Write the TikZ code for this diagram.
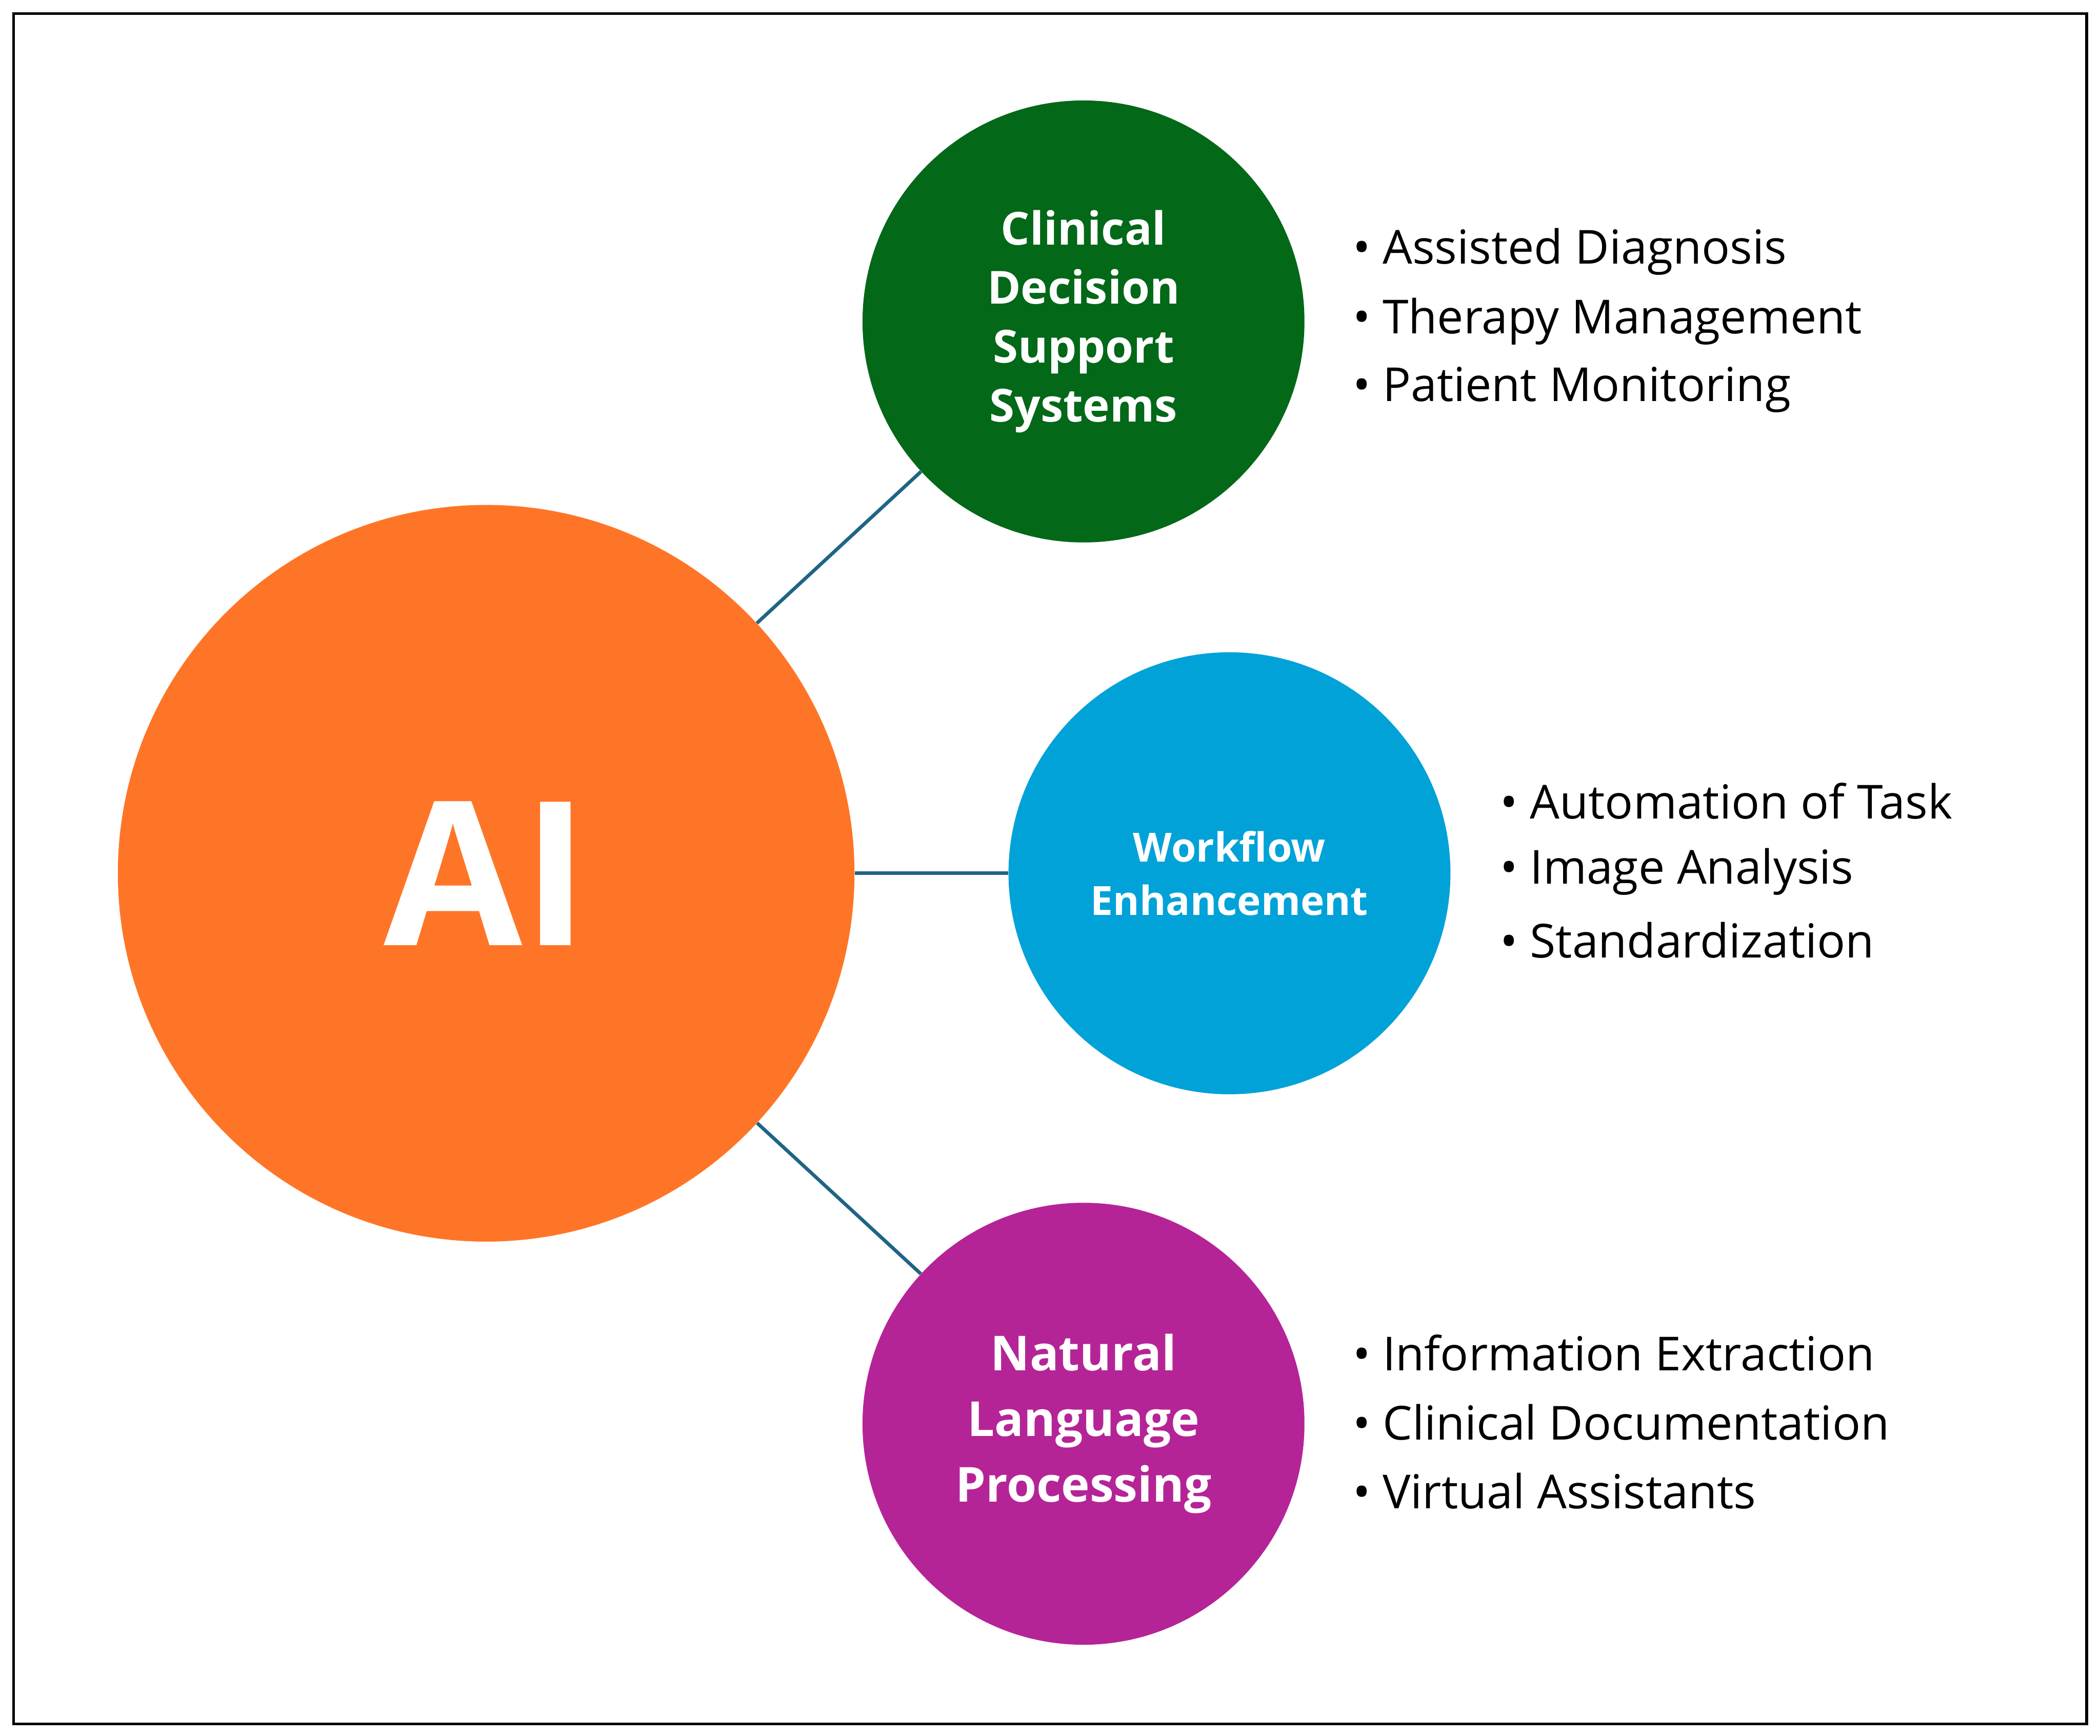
\documentclass[tikz,border=0pt]{standalone}
\usepackage{fontspec}
\setmainfont{Open Sans}
\definecolor{aiorange}{HTML}{FF7527}
\definecolor{cgreen}{HTML}{036818}
\definecolor{cblue}{HTML}{00A2D8}
\definecolor{cmag}{HTML}{B52497}
\definecolor{lnk}{HTML}{1F6485}
\begin{document}
\begin{tikzpicture}[x=1pt,y=-1pt,
  circ/.style={circle,inner sep=0pt,text=white,font=\fontsize{34}{44}\selectfont\bfseries,align=center},
  item/.style={anchor=west,font=\fontsize{35}{40}\selectfont,inner sep=0pt},
  conn/.style={draw=lnk,line width=2.6pt}]
\useasboundingbox (0,0) rectangle (1568,1296);
\draw[line width=2pt] (10,10) rectangle (1558,1287);
\node[circ,fill=aiorange,minimum size=550pt,font=\fontsize{150}{150}\selectfont\bfseries] (ai) at (363,652) {AI};
\node[circ,fill=cgreen,minimum size=330pt] (cd) at (809,240) {Clinical\\Decision\\Support\\Systems};
\node[circ,fill=cblue,minimum size=330pt,font=\fontsize{30}{40}\selectfont\bfseries] (wf) at (918,652) {Workflow\\Enhancement};
\node[circ,fill=cmag,minimum size=330pt,font=\fontsize{36}{49}\selectfont\bfseries] (nl) at (809,1063) {Natural\\Language\\Processing};
\draw[conn] (ai) -- (cd);
\draw[conn] (ai) -- (wf);
\draw[conn] (ai) -- (nl);
\node[item] (a1) at (1010,188) {• Assisted Diagnosis};
\node[item] (a2) at (1010,240) {• Therapy Management};
\node[item] (a3) at (1010,291) {• Patient Monitoring};
\node[item] (b1) at (1120,598) {• Automation of Task};
\node[item] (b2) at (1120,651) {• Image Analysis};
\node[item] (b3) at (1120,702) {• Standardization};
\node[item] (c1) at (1010,1010) {• Information Extraction};
\node[item] (c2) at (1010,1062) {• Clinical Documentation};
\node[item] (c3) at (1010,1113) {• Virtual Assistants};
\end{tikzpicture}
\end{document}
